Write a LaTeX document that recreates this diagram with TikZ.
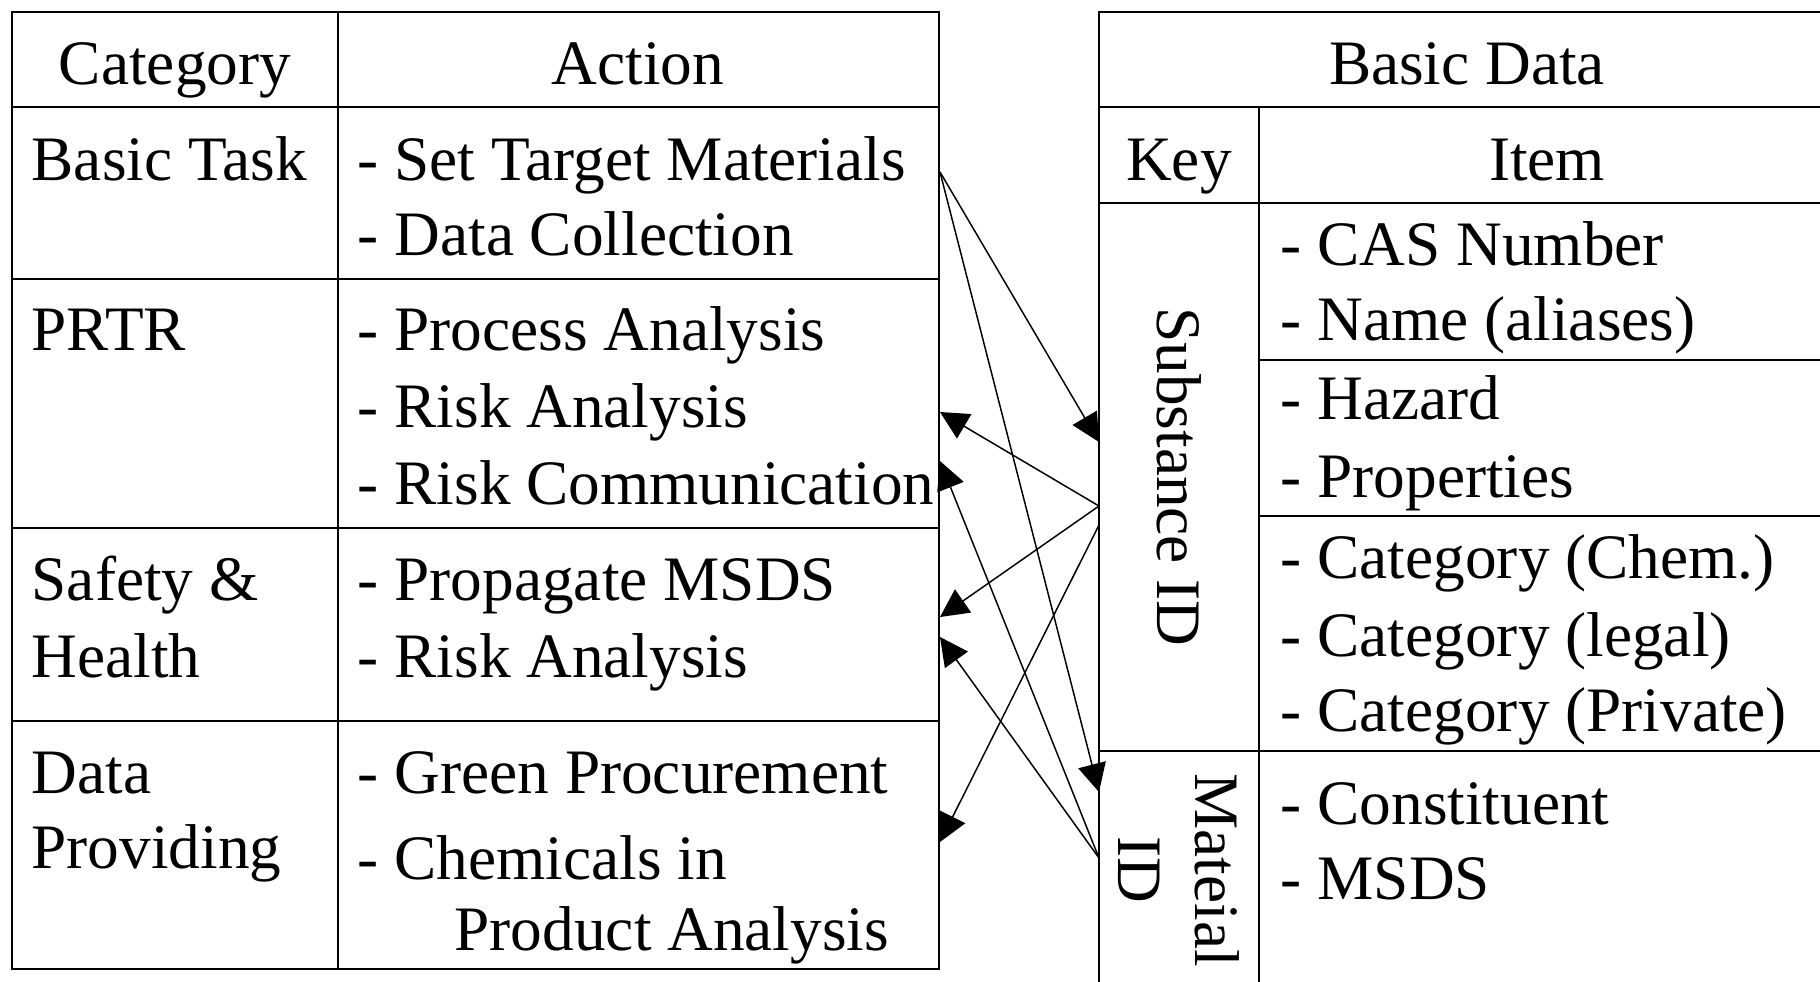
\documentclass[tikz,border=0pt]{standalone}
\usepackage{fontspec}
\setmainfont{Liberation Serif}
\usetikzlibrary{arrows.meta, positioning}

\tikzset{
  tbl/.style={line width=0.78pt},
  link/.style={line width=0.42pt, ->},
  >={Triangle[length=8pt,width=8pt]},
  txt/.style={anchor=base west, inner sep=0pt},
  head/.style={anchor=base, inner sep=0pt}
}

\begin{document}
\begin{tikzpicture}[x=0.01cm, y=-0.01cm, font=\fontsize{18pt}{22pt}\selectfont]
                \useasboundingbox (0,0) rectangle (1820,981);
                \clip (0,0) rectangle (1820,981);

                \draw[tbl] (12,12) rectangle (939,969);
                \draw[tbl] (338,12) -- (338,969);
                \draw[tbl] (12,107) -- (939,107)
                    (12,279) -- (939,279)
                    (12,528) -- (939,528)
                    (12,721) -- (939,721);

                \draw[tbl] (1850,12) -- (1099,12) -- (1099,1000)
                    (1099,107) -- (1850,107)
                    (1099,203) -- (1850,203)
                    (1259,107) -- (1259,1000)
                    (1259,360) -- (1850,360)
                    (1259,516) -- (1850,516)
                    (1099,751) -- (1850,751);

                \node[head] (cat) at (175,84) {Category};
                \node[head] (act) at (638,84) {Action};

                \node[txt] (task) at (31,180) {Basic Task};
                \node[txt] (settarget) at (357,180) {- Set Target Materials};
                \node[txt] (collect) at (357,255) {- Data Collection};

                \node[txt] (prtr) at (31,350) {PRTR};
                \node[txt] (process) at (357,350) {- Process Analysis};
                \node[txt] (risk) at (357,427) {- Risk Analysis};
                \node[txt] (riskcomm) at (357,504) {- Risk Communication};

                \node[txt] (safety) at (31,600) {Safety \&};
                \node[txt] (health) at (31,677) {Health};
                \node[txt] (msds) at (357,600) {- Propagate MSDS};
                \node[txt] (risktwo) at (357,677) {- Risk Analysis};

                \node[txt] (data) at (31,793) {Data};
                \node[txt] (providing) at (31,868) {Providing};
                \node[txt] (green) at (357,793) {- Green Procurement};
                \node[txt] (chem) at (357,879) {- Chemicals in};
                \node[txt] (product) at (454,950) {Product Analysis};

                \node[head] (basicdata) at (1467,84) {Basic Data};
                \node[head] (key) at (1179,180) {Key};
                \node[head] (item) at (1547,180) {Item};

                \node[txt] (cas) at (1280,265) {- CAS Number};
                \node[txt] (name) at (1280,340) {- Name (aliases)};
                \node[txt] (hazard) at (1280,419) {- Hazard};
                \node[txt] (props) at (1280,497) {- Properties};
                \node[txt] (catchem) at (1280,578) {- Category (Chem.)};
                \node[txt] (catlegal) at (1280,656) {- Category (legal)};
                \node[txt] (catpriv) at (1280,731) {- Category (Private)};
                \node[txt] (constit) at (1280,824) {- Constituent};
                \node[txt] (msdsitem) at (1280,899) {- MSDS};

                \node[rotate=-90, inner sep=0pt] (subid) at (1179,477) {Substance ID};
                \node[rotate=-90, inner sep=0pt, align=center] (matid) at (1179,870) {Mateial\\ID};

                \coordinate (setout) at (940,172);
                \coordinate (riskin) at (940,412);
                \coordinate (commin) at (940,461);
                \coordinate (msdsin) at (940,617);
                \coordinate (risktwoin) at (940,637);
                \coordinate (chemin) at (940,842);

                \coordinate (subin) at (1099,442);
                \coordinate (subout) at (1099,506);
                \coordinate (subouttwo) at (1099,525);
                \coordinate (matin) at (1099,792);
                \coordinate (matout) at (1099,858);

                \draw[link] (setout) to (subin);
                \draw[link] (setout) to (matin);
                \draw[link] (subout) to (riskin);
                \draw[link] (subout) to (msdsin);
                \draw[link] (subouttwo) to (chemin);
                \draw[link] (matout) to (commin);
                \draw[link] (matout) to (risktwoin);
            \end{tikzpicture}
\end{document}
